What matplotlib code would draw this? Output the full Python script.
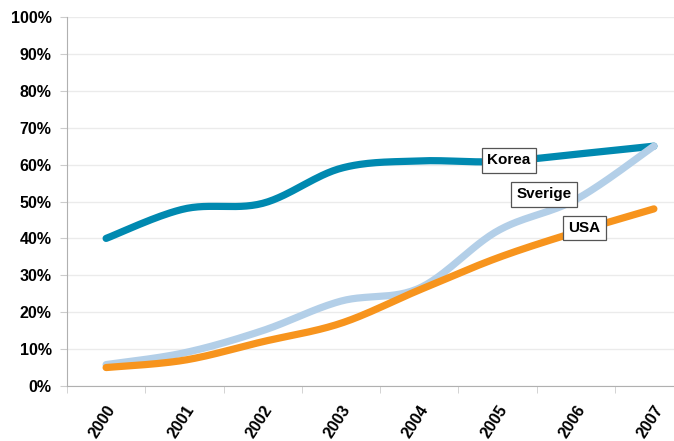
import numpy as np
import matplotlib.pyplot as plt
from matplotlib.ticker import MultipleLocator, PercentFormatter

plt.rcParams['font.family'] = ['Liberation Sans', 'DejaVu Sans']

years = ['2000', '2001', '2002', '2003', '2004', '2005', '2006', '2007']
korea = [40, 48, 49.5, 59, 61, 60.8, 62.8, 65]
sverige = [5.8, 9, 15, 23, 26.5, 42, 50.5, 65]
usa = [5, 7, 12, 17, 26, 34.7, 41.7, 48]

series = [('Korea', korea, '#0089b0'),
          ('Sverige', sverige, '#b3cfe8'),
          ('USA', usa, '#f7941d')]

# label positions (x in category units, y in %)
label_pos = {'Korea': (5.15, 61.2), 'Sverige': (5.6, 51.9), 'USA': (6.11, 42.8)}


def smooth(x, y, n=30):
    # Excel style smoothed line (Catmull-Rom to bezier)
    x = np.asarray(x, float)
    y = np.asarray(y, float)
    px = np.concatenate([[x[0]], x, [x[-1]]])
    py = np.concatenate([[y[0]], y, [y[-1]]])
    xs, ys = [], []
    t = np.linspace(0, 1, n)
    for i in range(1, len(px) - 2):
        p0 = np.array([px[i], py[i]])
        p3 = np.array([px[i + 1], py[i + 1]])
        p1 = p0 + (np.array([px[i + 1], py[i + 1]]) - np.array([px[i - 1], py[i - 1]])) / 6
        p2 = p3 - (np.array([px[i + 2], py[i + 2]]) - np.array([px[i], py[i]])) / 6
        b = ((1 - t) ** 3)[:, None] * p0 + (3 * (1 - t) ** 2 * t)[:, None] * p1 \
            + (3 * (1 - t) * t ** 2)[:, None] * p2 + (t ** 3)[:, None] * p3
        xs.extend(b[:, 0])
        ys.extend(b[:, 1])
    return np.array(xs), np.array(ys)


fig = plt.figure(figsize=(6.74, 4.41), dpi=100)
ax = fig.add_axes([67 / 674, 55 / 441, 626 / 674, 369 / 441])

x = np.arange(len(years))
for name, vals, col in series:
    sx, sy = smooth(x, vals)
    ax.plot(sx, sy, color=col, lw=5.2, solid_capstyle='round', zorder=3)
    lx, ly = label_pos[name]
    ax.text(lx, ly, name, fontsize=11, fontweight='bold', ha='center', va='center', zorder=5,
            bbox=dict(boxstyle='square,pad=0.35', fc='white', ec='#555555', lw=0.9))

ax.set_xlim(-0.5, len(years) - 0.5)
ax.set_ylim(0, 100)
ax.yaxis.set_major_locator(MultipleLocator(10))
ax.yaxis.set_major_formatter(PercentFormatter(decimals=0))
ax.grid(axis='y', color='#ebebeb', lw=1)
ax.set_axisbelow(True)

ax.set_xticks(x)
ax.set_xticklabels(years, rotation=57, ha='right', va='top', rotation_mode='anchor')
ax.set_xticks(np.arange(-0.5, len(years)), minor=True)
ax.tick_params(axis='x', which='major', length=0, pad=12, labelsize=11.5)
ax.tick_params(axis='x', which='minor', length=5, color='#cccccc')
ax.tick_params(axis='y', length=5, color='#cccccc', labelsize=11.5, pad=6)
for lab in ax.get_xticklabels() + ax.get_yticklabels():
    lab.set_fontweight('bold')

for s in ['top', 'right']:
    ax.spines[s].set_visible(False)
ax.spines['left'].set_color('#b0b0b0')
ax.spines['bottom'].set_color('#b0b0b0')

fig.savefig('out.png', dpi=100)
